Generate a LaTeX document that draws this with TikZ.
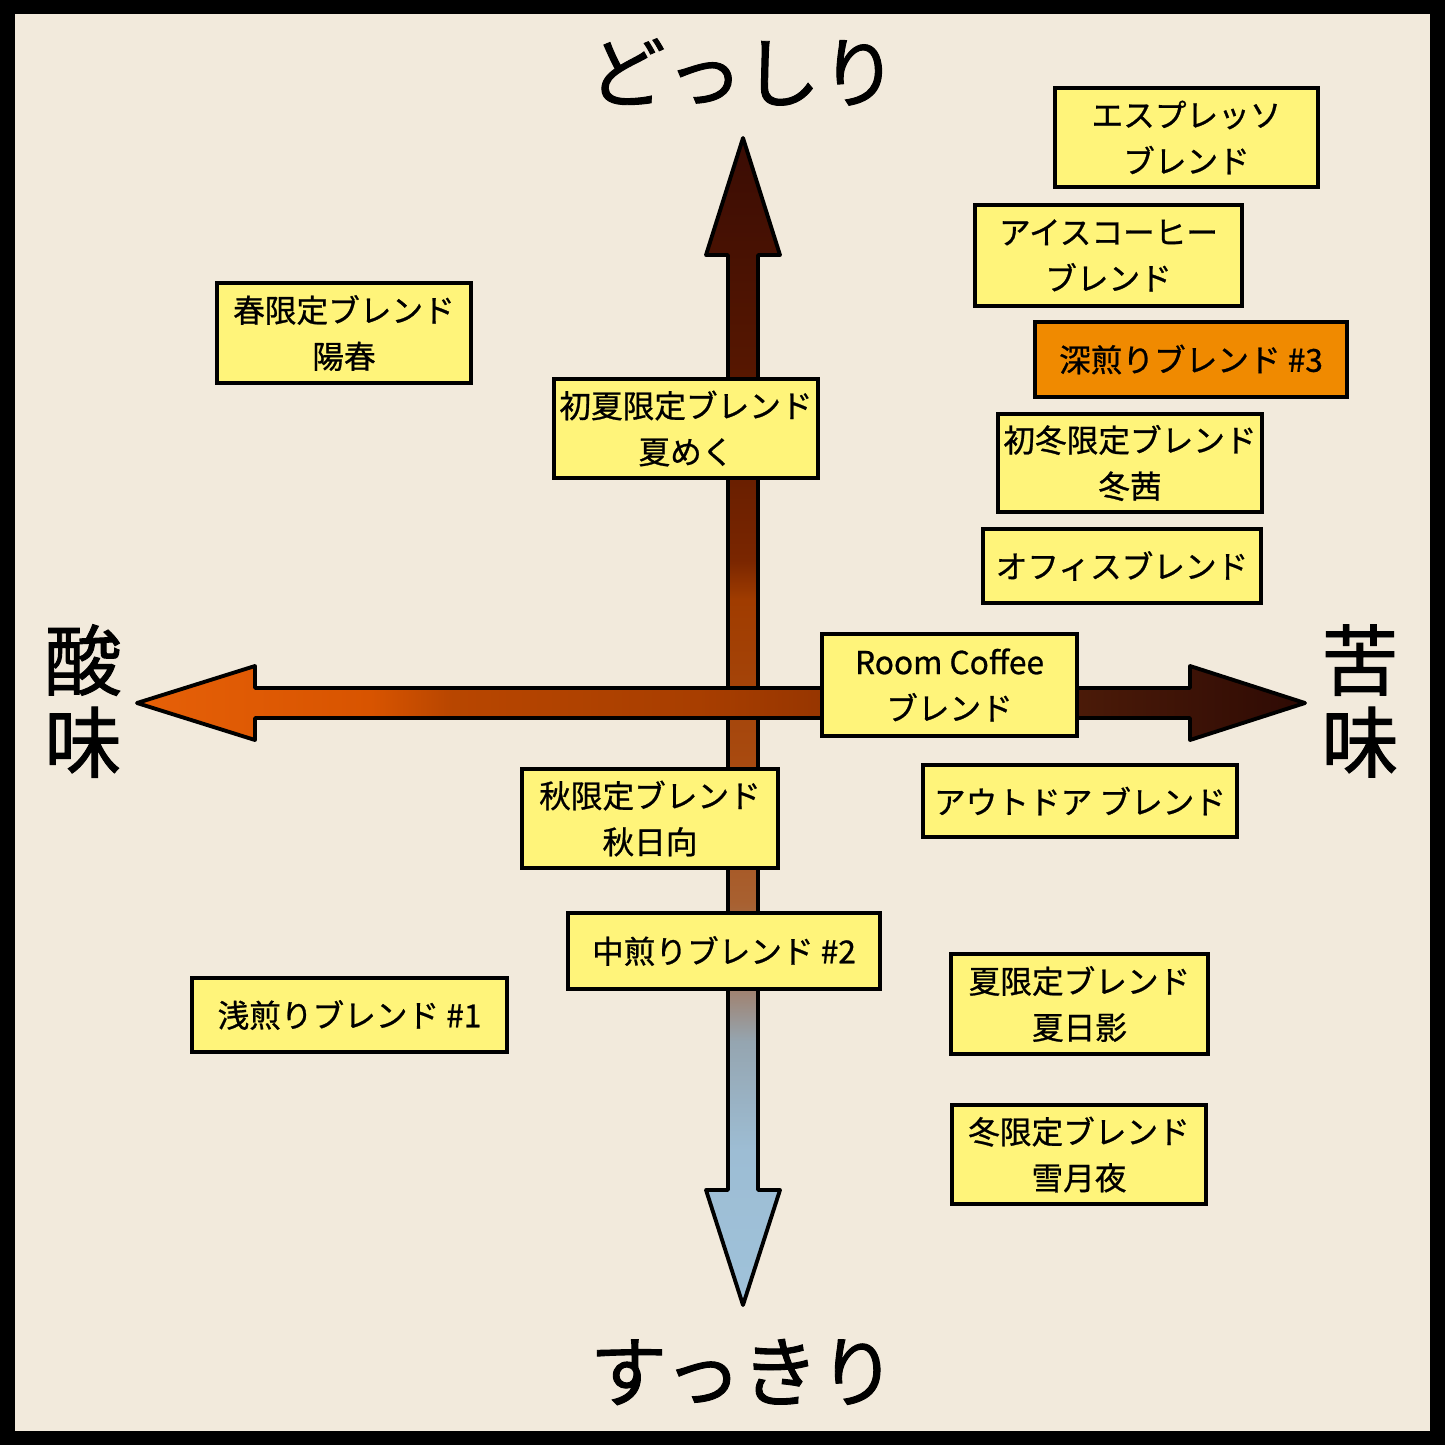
\documentclass[tikz,border=0pt]{standalone}
\usepackage{fontspec}
\setmainfont{Noto Sans CJK JP}
\newfontfamily\jpmed[FakeBold=0.8]{Noto Sans CJK JP}
\newfontfamily\jpbig[FakeBold=1.2]{Noto Sans CJK JP}
\usepackage{xcolor}
\definecolor{paper}{RGB}{242, 234, 220}
\definecolor{boxyellow}{RGB}{255, 244, 122}
\definecolor{boxorange}{RGB}{240, 138, 0}
\usetikzlibrary{shadows}
\pgfdeclareverticalshading{bodyaxis}{100bp}{color(0bp)=(rgb,255:red,159;green,194;blue,218); color(25bp)=(rgb,255:red,159;green,194;blue,218); color(31.6bp)=(rgb,255:red,157;green,189;blue,212); color(36.3bp)=(rgb,255:red,149;green,165;blue,176); color(38.5bp)=(rgb,255:red,160;green,130;blue,112); color(42.3bp)=(rgb,255:red,168;green,96;blue,48); color(48.3bp)=(rgb,255:red,168;green,74;blue,16); color(55.2bp)=(rgb,255:red,160;green,60;blue,0); color(56.9bp)=(rgb,255:red,122;green,38;blue,0); color(63.7bp)=(rgb,255:red,90;green,24;blue,0); color(75bp)=(rgb,255:red,58;green,12;blue,4); color(100bp)=(rgb,255:red,58;green,12;blue,4)}
\pgfdeclarehorizontalshading{tasteaxis}{100bp}{color(0bp)=(rgb,255:red,230;green,96;blue,8); color(25bp)=(rgb,255:red,230;green,96;blue,8); color(35bp)=(rgb,255:red,216;green,84;blue,0); color(38.5bp)=(rgb,255:red,184;green,70;blue,0); color(49bp)=(rgb,255:red,168;green,62;blue,0); color(54bp)=(rgb,255:red,152;green,54;blue,0); color(65.5bp)=(rgb,255:red,74;green,26;blue,8); color(75bp)=(rgb,255:red,46;green,10;blue,4); color(100bp)=(rgb,255:red,46;green,10;blue,4)}

\begin{document}
\begin{tikzpicture}[x=0.01cm, y=-0.01cm,
	blend/.style = {draw, line width=1.1pt, fill=boxyellow, align=center, inner sep=0pt,
		font=\jpmed\fontsize{9}{13.1}\selectfont,
		drop shadow={shadow xshift=0.6pt, shadow yshift=-0.6pt, opacity=0.25}},
	axislabel/.style = {align=center, inner sep=0pt, font=\jpbig\fontsize{22}{23.3}\selectfont},
	arrowbody/.style = {draw, line width=1.1pt, line join=round,
		drop shadow={shadow xshift=0pt, shadow yshift=0pt, opacity=0.2}}]
	\useasboundingbox (0,0) rectangle (1445,1445);
	\fill[black] (0,0) rectangle (1445,1445);
	\fill[paper] (15,14) rectangle (1430,1431);
	% axes
	\path[arrowbody, shading=bodyaxis] (728,255) -- (706,255) -- (743,138) -- (780,255) -- (758,255) -- (758,1190) -- (780,1190) -- (743,1305) -- (706,1190) -- (728,1190) -- cycle;
	\path[arrowbody, shading=tasteaxis] (255,688) -- (255,666) -- (137,703) -- (255,740) -- (255,718) -- (1190,718) -- (1190,740) -- (1305,703) -- (1190,666) -- (1190,688) -- cycle;
	\node[axislabel] (heavy) at (743,72) {どっしり};
	\node[axislabel] (light) at (743,1372) {すっきり};
	\node[axislabel] (sour) at (83,701) {酸\\味};
	\node[axislabel] (bitter) at (1360,701) {苦\\味};
	% blends
	\node[blend, minimum width=2.63cm, minimum height=0.99cm] (espresso) at (1186.5,137.5) {エスプレッソ\\ブレンド};
	\node[blend, minimum width=2.67cm, minimum height=1.01cm] (iced) at (1108.5,255.5) {アイスコーヒー\\ブレンド};
	\node[blend, fill=boxorange, minimum width=3.12cm, minimum height=0.75cm] (deep) at (1191,359.5) {深煎りブレンド \#3};
	\node[blend, minimum width=2.64cm, minimum height=0.98cm] (earlywinter) at (1130,463) {初冬限定ブレンド\\冬茜};
	\node[blend, minimum width=2.78cm, minimum height=0.74cm] (office) at (1122,566) {オフィスブレンド};
	\node[blend, minimum width=2.55cm, minimum height=1.02cm] (room) at (949.5,685) {Room Coffee\\ブレンド};
	\node[blend, minimum width=3.14cm, minimum height=0.72cm] (outdoor) at (1080,801) {アウトドア ブレンド};
	\node[blend, minimum width=2.54cm, minimum height=1.00cm] (spring) at (344,333) {春限定ブレンド\\陽春};
	\node[blend, minimum width=2.64cm, minimum height=0.99cm] (earlysummer) at (686,428.5) {初夏限定ブレンド\\夏めく};
	\node[blend, minimum width=2.56cm, minimum height=0.99cm] (autumn) at (650,818.5) {秋限定ブレンド\\秋日向};
	\node[blend, minimum width=3.12cm, minimum height=0.76cm] (medium) at (724,951) {中煎りブレンド \#2};
	\node[blend, minimum width=3.15cm, minimum height=0.74cm] (shallow) at (349.5,1015) {浅煎りブレンド \#1};
	\node[blend, minimum width=2.57cm, minimum height=1.00cm] (summer) at (1079.5,1004) {夏限定ブレンド\\夏日影};
	\node[blend, minimum width=2.54cm, minimum height=0.99cm] (winter) at (1079,1154.5) {冬限定ブレンド\\雪月夜};
\end{tikzpicture}
\end{document}
